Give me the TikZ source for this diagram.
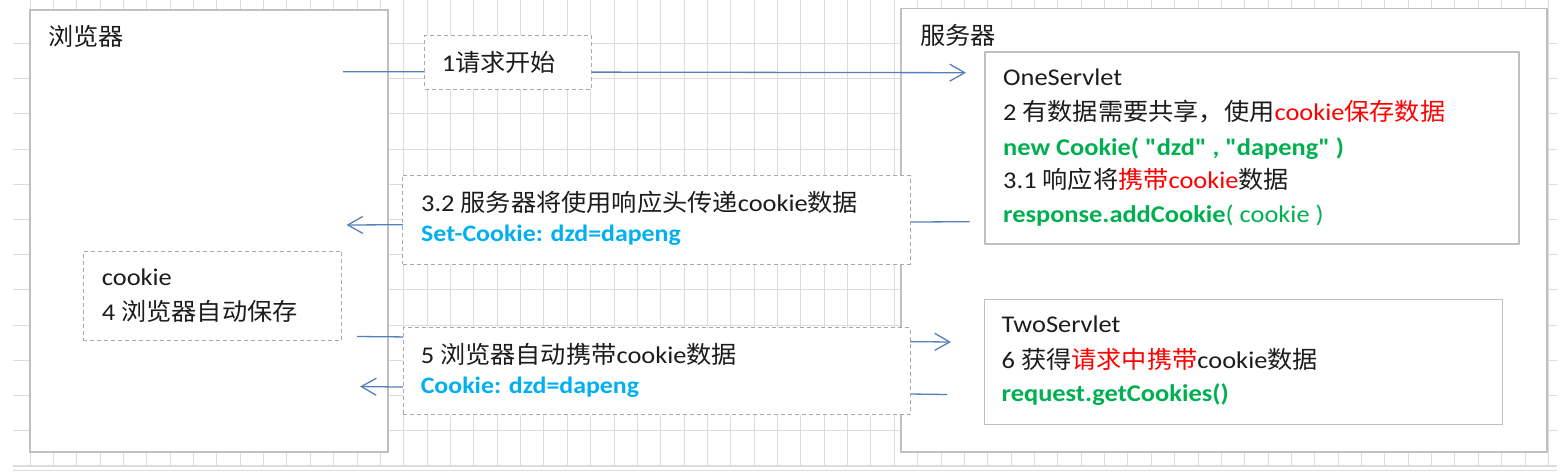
\documentclass[tikz,border=0pt]{standalone}
\usepackage{fontspec}
\setmainfont{Carlito}[FakeStretch=1.1]
\newfontfamily\cjk{Noto Sans CJK SC}[FakeStretch=1.05]
\newfontfamily\codefont{Carlito}[FakeStretch=1.1]
\newcommand{\zh}[1]{{\cjk #1}}
\newcommand{\dq}{{\codefont\symbol{34}}}
\usetikzlibrary{arrows.meta}

\definecolor{gridgray}{RGB}{220,220,220}
\definecolor{boxgray}{RGB}{192,192,192}
\definecolor{dashgray}{RGB}{168,168,168}
\definecolor{arrowblue}{RGB}{86,128,188}
\definecolor{txtblack}{RGB}{28,28,28}
\definecolor{txtred}{RGB}{255,0,0}
\definecolor{txtgreen}{RGB}{0,176,80}
\definecolor{txtblue}{RGB}{0,176,240}

\tikzset{
  hostbox/.style={draw=boxgray, line width=1.6pt, fill=white, inner sep=0pt, outer sep=0pt, anchor=north west},
  notebox/.style={draw=dashgray, line width=1pt, dash pattern=on 4pt off 3pt, fill=white, inner sep=0pt, outer sep=0pt, anchor=north west},
  msg/.style={draw=arrowblue, line width=1.3pt, -{Straight Barb[length=15pt,width=17pt]}},
  txt/.style={anchor=base west, inner sep=0pt, text=txtblack, font=\fontsize{24}{30}\selectfont},
  codetxt/.style={txt, text=txtblue, font=\fontsize{23.5}{28}\selectfont\bfseries},
  gridline/.style={draw=gridgray, line width=1pt},
}

\begin{document}
\begin{tikzpicture}[x=1pt, y=-1pt]
    \useasboundingbox (0,0) rectangle (1562,472);
    \fill[white] (0,0) rectangle (1562,472);

    % 表格网格
    \foreach \k in {0,...,65} {
        \draw[gridline] ({30+23.36*\k},0) -- ({30+23.36*\k},466);
    }
    \foreach \k in {1,...,12} {
        \draw[gridline] (13,{8.3+35.2*\k}) -- (1557,{8.3+35.2*\k});
    }
    \draw[gridline, line width=2pt] (13,466) -- (1557,466);
    \draw[gridline] (13,470) -- (1557,470);

    % 浏览器
    \node[hostbox, minimum width=358pt, minimum height=442pt] (browser) at (30,10) {};
    \node[txt] (browsername) at (48,45) {\zh{浏览器}};

    % 服务器
    \node[hostbox, minimum width=646pt, minimum height=443.5pt] (server) at (900.7,8.5) {};
    \node[txt] (servername) at (920,44) {\zh{服务器}};
    \node[hostbox, minimum width=534pt, minimum height=192pt] (one) at (985,52) {};
    \node[hostbox, minimum width=518pt, minimum height=125pt] (two) at (984.5,299.5) {};

    % 请求与响应
    \coordinate (req-b) at (343,71.7);
    \coordinate (req-s) at (966,72.7);
    \coordinate (resp-s) at (969.5,221.7);
    \coordinate (resp-b) at (346.5,225);
    \coordinate (req2-b) at (357,336.5);
    \coordinate (req2-s) at (951,342);
    \coordinate (resp2-s) at (947,394.5);
    \coordinate (resp2-b) at (360,386.5);
    \draw[msg] (req-b) -- (req-s);
    \draw[msg] (resp-s) -- (resp-b);
    \draw[msg] (req2-b) -- (req2-s);
    \draw[msg] (resp2-s) -- (resp2-b);

    % 说明框
    \node[notebox, minimum width=166.5pt, minimum height=54pt] (note1) at (424.5,35) {};
    \node[notebox, minimum width=507.3pt, minimum height=89pt] (note32) at (402.7,175) {};
    \node[notebox, minimum width=258.4pt, minimum height=89.7pt] (note4) at (83.3,251) {};
    \node[notebox, minimum width=507pt, minimum height=87pt] (note5) at (403,327.5) {};

    % 文字
    \node[txt] (t1) at (441.7,71) {1\zh{请求开始}};

    \node[txt] (one1) at (1003,85.5) {OneServlet};
    \node[txt] (one2) at (1003,120.5) {2 \zh{有数据需要共享，使用}\textcolor{txtred}{cookie\zh{保存数据}}};
    \node[txt, text=txtgreen, font=\fontsize{24}{30}\selectfont\bfseries] (one3) at (1003,155) {new Cookie( \dq dzd\dq\ , \dq dapeng\dq\ )};
    \node[txt] (one4) at (1003,188.5) {3.1 \zh{响应将}\textcolor{txtred}{\zh{携带}cookie}\zh{数据}};
    \node[txt, text=txtgreen] (one5) at (1003,222) {\textbf{response.addCookie}( cookie )};

    \node[txt] (t32) at (421,211.5) {3.2 \zh{服务器将使用响应头传递}cookie\zh{数据}};
    \node[codetxt] (t32b) at (421,241.5) {Set-Cookie: dzd=dapeng};

    \node[txt] (t4) at (101.7,285) {cookie};
    \node[txt] (t4b) at (101.7,320) {4 \zh{浏览器自动保存}};

    \node[txt] (t5) at (420.6,363.5) {5 \zh{浏览器自动携带}cookie\zh{数据}};
    \node[codetxt] (t5b) at (420.6,393.5) {Cookie: dzd=dapeng};

    \node[txt] (two1) at (1001.5,332.7) {TwoServlet};
    \node[txt] (two2) at (1001.5,368) {6 \zh{获得}\textcolor{txtred}{\zh{请求中携带}}cookie\zh{数据}};
    \node[txt, text=txtgreen, font=\fontsize{24}{30}\selectfont\bfseries] (two3) at (1001.5,401.7) {request.getCookies()};
\end{tikzpicture}
\end{document}
